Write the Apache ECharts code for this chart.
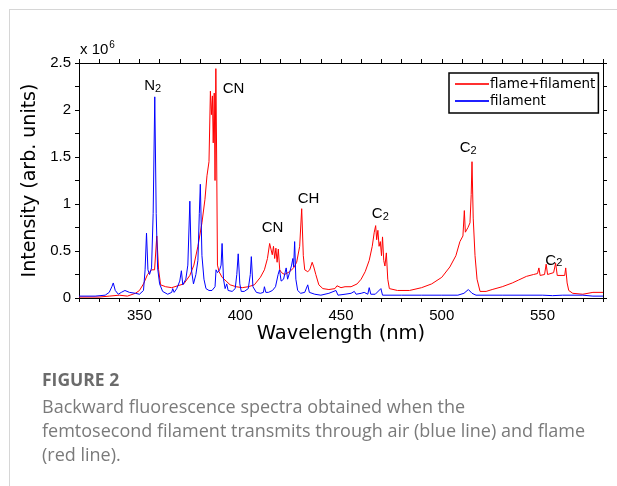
<!DOCTYPE html>
<html><head><meta charset="utf-8">
<script src="https://cdn.jsdelivr.net/npm/echarts@6/dist/echarts.min.js"></script>
<style>html,body{margin:0;padding:0;background:#fff}#c{width:617px;height:486px}</style>
</head><body><div id="c"></div>
<script>
// Wavelength (nm) and intensity (x10^6 arb. units)
const redWl = [320,330,335,340,344,348,350,352,354,356,357.5,358.6,359.5,360.5,363,366,369,372,375,377,379,381,382.5,383.5,384.5,385.2,385.7,386.2,386.6,387.1,387.5,387.9,388.3,388.7,389.5,391,393,395,398,401,404,407,410,412,413.5,414.6,415.3,415.9,416.5,417.1,417.7,418.3,418.9,419.6,420.5,422,424.5,426.5,428,429.5,430.5,431.3,432,433.5,434.5,435.7,436.5,437.5,439,441,444,447,448,450,452,455,458,460,462,464,465.5,466.5,467.2,467.7,468.3,468.9,469.5,470.1,470.6,471.2,471.8,472.5,473.2,474,478,484,490,495,500,504,507,509,510.5,511.2,511.7,513,514,514.6,515.0,515.6,516.5,517.5,519,522,525,530,535,538,542,545.5,547.5,548.2,548.8,551,551.8,552.5,555.5,556.5,557.3,561,561.5,562.2,563,565,570,575,580];
const redI  = [0.01,0.01,0.02,0.03,0.02,0.05,0.08,0.15,0.25,0.30,0.30,0.66,0.30,0.14,0.12,0.11,0.13,0.15,0.24,0.35,0.55,0.80,1.05,1.30,1.45,2.20,1.95,2.15,1.65,2.18,1.25,2.44,1.50,0.35,0.28,0.22,0.18,0.14,0.12,0.11,0.12,0.14,0.22,0.30,0.42,0.58,0.58,0.46,0.55,0.42,0.53,0.38,0.52,0.30,0.27,0.25,0.28,0.32,0.38,0.55,0.95,0.45,0.30,0.28,0.30,0.38,0.33,0.25,0.14,0.10,0.09,0.10,0.13,0.11,0.12,0.12,0.15,0.20,0.28,0.40,0.55,0.70,0.77,0.62,0.72,0.55,0.60,0.45,0.65,0.40,0.34,0.48,0.20,0.10,0.08,0.08,0.11,0.15,0.22,0.33,0.45,0.60,0.66,0.93,0.70,0.75,0.80,1.10,1.45,0.85,0.45,0.20,0.07,0.07,0.09,0.12,0.16,0.19,0.23,0.25,0.26,0.32,0.24,0.25,0.36,0.25,0.27,0.37,0.24,0.24,0.32,0.16,0.08,0.05,0.04,0.06,0.06];
const blueWl = [320,328,333,335,336.3,337,338,339.5,341,342.8,345,348,350,352,352.8,353.5,354.2,355,356,356.8,357.6,358.3,359,360,361.5,364,366,366.5,367.2,368.5,370,370.8,371.5,373,374,375,375.8,376.8,378,379,379.7,380.2,381,382,383,384.5,386,387.5,388,388.7,389.8,390.5,391,391.7,392.5,393.3,394,396,397.5,398.3,399,399.8,400.5,402,404,405,405.5,406.3,408,410,411.5,412,412.7,414,416,417.5,418.8,419.5,420.3,421.5,422.8,423.5,424.5,425.5,426.1,426.5,427,427.6,428.5,430,432,433.5,434.3,437,440,444,447.5,448.5,452,455,456.6,457.5,460,461.5,463.3,464,464.8,467,469.8,470.6,480,490,500,508,511,513.2,515,517,530,550,555,560,570,575,580];
const blueI  = [0.02,0.02,0.03,0.06,0.12,0.16,0.08,0.04,0.06,0.08,0.06,0.05,0.04,0.08,0.30,0.69,0.30,0.25,0.32,0.90,2.14,0.90,0.32,0.15,0.07,0.04,0.06,0.10,0.06,0.10,0.18,0.29,0.14,0.20,0.35,1.03,0.30,0.15,0.25,0.40,0.90,1.21,0.45,0.20,0.10,0.08,0.08,0.12,0.30,0.27,0.30,0.35,0.58,0.20,0.10,0.15,0.08,0.07,0.10,0.25,0.47,0.15,0.07,0.07,0.10,0.25,0.44,0.12,0.06,0.05,0.06,0.12,0.06,0.06,0.08,0.12,0.25,0.30,0.18,0.20,0.32,0.20,0.27,0.35,0.42,0.33,0.60,0.20,0.08,0.05,0.06,0.14,0.06,0.04,0.03,0.05,0.08,0.03,0.04,0.05,0.07,0.04,0.05,0.06,0.04,0.11,0.04,0.04,0.10,0.03,0.03,0.03,0.03,0.03,0.05,0.09,0.05,0.03,0.03,0.03,0.025,0.03,0.03,0.02,0.02];
const seriesNames = ['flame+filament','filament'];
// Annotation labels: [base, subscript, wavelength, intensity]
const annotations = [['N','2',356.6,2.255],['CN','',396.7,2.23],['CN','',416,0.745],['CH','',433.9,1.06],['C','2',469.5,0.89],['C','2',513.1,1.6],['C','2',555.6,0.40]];
const xTicks = {min:320, max:580, step:10, labelStep:50};
const yTicks = {min:0, max:2.5, step:0.25, labelStep:0.5};

const zip = (a,b)=>a.map((v,i)=>[v,b[i]]);
const F = '"Liberation Sans", Arial, sans-serif';
const FW = '"DejaVu Sans", sans-serif';
const FC = '"Open Sans", sans-serif';
const chart = echarts.init(document.getElementById('c'));
const axisCommon = {
  type:'value', axisLine:{show:true,onZero:false,lineStyle:{color:'#000',width:1}},
  axisTick:{show:true,inside:false,length:4,lineStyle:{color:'#000'}}, splitLine:{show:false}
};
const xBase = Object.assign({}, axisCommon, {min:xTicks.min,max:xTicks.max,interval:xTicks.step});
const yBase = Object.assign({}, axisCommon, {min:yTicks.min,max:yTicks.max,interval:yTicks.step});
chart.setOption({
  animation:false,
  grid:{left:79,right:14,top:63,bottom:188},
  xAxis:[
    Object.assign({}, xBase, {position:'bottom', name:'Wavelength (nm)', nameLocation:'middle', nameGap:25,
      nameTextStyle:{fontFamily:FW,fontSize:19.5,color:'#000'},
      axisLabel:{margin:10,fontFamily:F,fontSize:15,color:'#000',
        formatter:v=>(Math.abs(v/xTicks.labelStep-Math.round(v/xTicks.labelStep))<1e-6?String(v):'')}}),
    Object.assign({}, xBase, {position:'top', axisLabel:{show:false}})
  ],
  yAxis:[
    Object.assign({}, yBase, {position:'left', name:'Intensity (arb. units)', nameLocation:'middle', nameGap:29,
      nameTextStyle:{fontFamily:FW,fontSize:19,color:'#000'},
      axisLabel:{margin:8,fontFamily:F,fontSize:15,color:'#000',
        formatter:v=>(Math.abs(v/yTicks.labelStep-Math.round(v/yTicks.labelStep))<1e-6?String(+v.toFixed(2)):'')}}),
    Object.assign({}, yBase, {position:'right', axisLabel:{show:false}})
  ],
  legend:{
    left:449, top:73, orient:'vertical', itemGap:3, itemWidth:34, itemHeight:2,
    icon:'rect', borderColor:'#000', borderWidth:1.5, padding:[4,3,5,6],
    textStyle:{fontFamily:FW,fontSize:13.5,color:'#000',padding:[0,0,0,-4]},
    data:seriesNames
  },
  series:[
    {name:seriesNames[0], type:'line', data:zip(redWl,redI), showSymbol:false, symbol:'none',
     lineStyle:{color:'#ff0000',width:1}, itemStyle:{color:'#ff3030'}, z:2,
     markPoint:{symbol:'circle',symbolSize:0, silent:true,
       label:{show:true,position:'inside',formatter:p=>'{a|'+p.data.t+'}{s|'+p.data.s+'}',
         rich:{a:{fontFamily:F,fontSize:15,color:'#000'},s:{fontFamily:F,fontSize:11,color:'#000',verticalAlign:'bottom',padding:[0,0,-1,0]}}},
       data:annotations.map(a=>({coord:[a[2],a[3]],t:a[0],s:a[1]}))}},
    {name:seriesNames[1], type:'line', data:zip(blueWl,blueI), showSymbol:false, symbol:'none',
     lineStyle:{color:'#0000ff',width:1}, itemStyle:{color:'#2020ff'}, z:3}
  ],
  graphic:[
    {type:'line',shape:{x1:9,y1:9.5,x2:617,y2:9.5},style:{stroke:'#d6d6d6',lineWidth:1}},
    {type:'line',shape:{x1:9.5,y1:9,x2:9.5,y2:486},style:{stroke:'#d6d6d6',lineWidth:1}},
    {type:'text',left:80,top:40,style:{text:'{a|x 10}{b|6}',rich:{a:{fontFamily:F,fontSize:15,color:'#000'},b:{fontFamily:F,fontSize:10,color:'#000',verticalAlign:'top',padding:[0,0,9,1]}}}},
    {type:'text',left:42,top:372,style:{text:'FIGURE 2',fontFamily:FC,fontWeight:'bold',fontSize:17.5,fill:'#6b6b6b'}},
    {type:'text',left:42,top:396,style:{text:'Backward fluorescence spectra obtained when the\nfemtosecond filament transmits through air (blue line) and flame\n(red line).',fontFamily:FC,fontSize:18,lineHeight:24,fill:'#7a7a7a'}}
  ]
});
</script></body></html>
